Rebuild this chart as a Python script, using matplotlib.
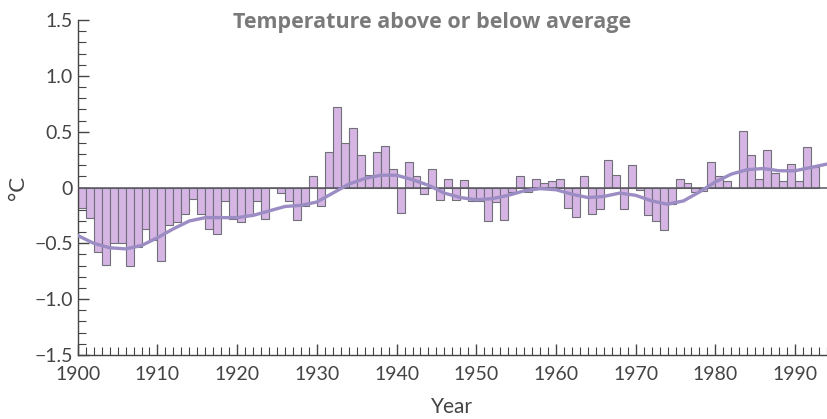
import numpy as np
import matplotlib.pyplot as plt
from matplotlib.ticker import MultipleLocator

plt.rcParams['font.family'] = ['Lato', 'DejaVu Sans']

# yearly anomaly, degrees C
years = np.arange(1900, 1993)
anomaly = [
    -0.18, -0.27, -0.58, -0.69, -0.50, -0.50, -0.70, -0.53, -0.37, -0.47,  # 1900s
    -0.66, -0.34, -0.31, -0.24, -0.10, -0.24, -0.37, -0.42, -0.12, -0.28,  # 1910s
    -0.31, -0.25, -0.12, -0.28, 0.00, -0.05, -0.12, -0.29, -0.17, 0.10,    # 1920s
    -0.17, 0.32, 0.72, 0.40, 0.53, 0.29, 0.11, 0.32, 0.37, 0.17,           # 1930s
    -0.23, 0.23, 0.10, -0.06, 0.17, -0.11, 0.08, -0.11, 0.07, -0.12,       # 1940s
    -0.12, -0.30, -0.13, -0.29, -0.04, 0.10, -0.04, 0.08, 0.04, 0.06,      # 1950s
    0.08, -0.18, -0.26, 0.10, -0.24, -0.19, 0.25, 0.11, -0.19, 0.20,       # 1960s
    -0.02, -0.25, -0.30, -0.38, -0.15, 0.08, 0.04, -0.04, -0.03, 0.23,     # 1970s
    0.10, 0.06, 0.00, 0.51, 0.29, 0.08, 0.34, 0.13, 0.06, 0.21,            # 1980s
    0.06, 0.36, 0.18,                                                      # 1990s
]

# smoothed trend
trend_years = [1900, 1902, 1904, 1906, 1908, 1910, 1912, 1914, 1916, 1918,
               1920, 1922, 1924, 1926, 1928, 1930, 1932, 1934, 1936, 1938,
               1940, 1942, 1944, 1946, 1948, 1950, 1952, 1954, 1956, 1958,
               1960, 1962, 1964, 1966, 1968, 1970, 1972, 1974, 1976, 1978,
               1980, 1982, 1984, 1986, 1988, 1990, 1992, 1994]
trend = [-0.43, -0.50, -0.54, -0.55, -0.52, -0.45, -0.37, -0.30, -0.27, -0.27,
         -0.27, -0.25, -0.21, -0.17, -0.16, -0.13, -0.05, 0.03, 0.08, 0.11,
         0.11, 0.07, 0.02, -0.05, -0.09, -0.11, -0.10, -0.07, -0.03, -0.01,
         -0.02, -0.06, -0.09, -0.08, -0.05, -0.07, -0.12, -0.15, -0.12, -0.04,
         0.05, 0.12, 0.16, 0.17, 0.15, 0.15, 0.18, 0.21]

fig = plt.figure(figsize=(8.27, 4.19), dpi=100)
ax = fig.add_axes([0.094, 0.153, 0.906, 0.799])

ax.bar(years, anomaly, width=1, align='edge', color='#d6b4e4',
       edgecolor='#707078', linewidth=0.8, zorder=2)
ax.axhline(0, color='#55555c', linewidth=1.1, zorder=3)
ax.plot(trend_years, trend, color='#9c8cc4', linewidth=2.4, zorder=4)

ax.set_xlim(1900, 1994)
ax.set_ylim(-1.5, 1.5)

for s in ['top', 'right']:
    ax.spines[s].set_visible(False)
for s in ['left', 'bottom']:
    ax.spines[s].set_color('#444444')
    ax.spines[s].set_linewidth(1.0)

ax.xaxis.set_major_locator(MultipleLocator(10))
ax.xaxis.set_minor_locator(MultipleLocator(1))
ax.yaxis.set_major_locator(MultipleLocator(0.5))
ax.yaxis.set_minor_locator(MultipleLocator(0.1))
ax.tick_params(which='both', direction='in', color='#444444', labelcolor='#444444')
ax.tick_params(which='major', length=8, width=1.0, labelsize=14)
ax.tick_params(which='minor', length=6, width=0.8)
ax.tick_params(axis='x', which='major', pad=8)

ylabels = {1.5: '1.5', 1.0: '1.0', 0.5: '0.5', 0.0: '0',
           -0.5: '\u22120.5', -1.0: '\u22121.0', -1.5: '\u22121.5'}
ax.set_yticks(list(ylabels.keys()))
ax.set_yticklabels(list(ylabels.values()))

ax.set_xlabel('Year', fontsize=15, color='#444444', labelpad=10)
ax.set_ylabel('\u00b0C', fontsize=16, color='#444444')
ax.yaxis.set_label_coords(-0.067, 0.5)

fig.text(0.522, 0.947, 'Temperature above or below average', ha='center',
         va='center', fontsize=15.5, fontweight='bold', color='#7a7a7a',
         family=['Open Sans', 'DejaVu Sans'])

fig.savefig('out.png', dpi=100)
